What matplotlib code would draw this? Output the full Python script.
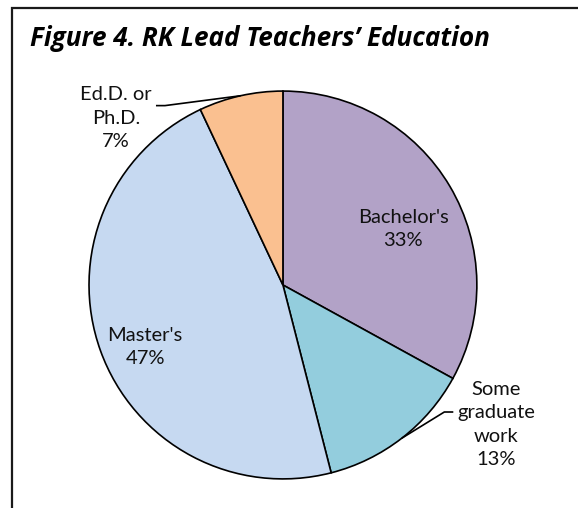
import matplotlib
matplotlib.use("Agg")
import matplotlib.pyplot as plt
import numpy as np
from matplotlib.patches import Rectangle

plt.rcParams["font.family"] = ["Lato", "DejaVu Sans"]

title = "Figure 4. RK Lead Teachers\u2019 Education"
categories = ["Bachelor's", "Some\ngraduate\nwork", "Master's", "Ed.D. or\nPh.D."]
shares = [33, 13, 47, 7]
colors = ["#B2A2C7", "#93CDDD", "#C6D9F1", "#FAC090"]

# label centres in data units (pie radius = 1)
label_pos = [(0.62, 0.29), (1.10, -0.72), (-0.71, -0.32), (-0.86, 0.86)]
outside = [False, True, False, True]

fig = plt.figure(figsize=(5.78, 5.08), dpi=100)
ax = fig.add_axes([0.154, 0.057, 0.671, 0.764])

wedges, _ = ax.pie(
    shares,
    colors=colors,
    startangle=90,
    counterclock=False,
    radius=1,
    wedgeprops=dict(edgecolor="black", linewidth=1.2),
)
ax.set_xlim(-1, 1)
ax.set_ylim(-1, 1)
ax.set_aspect("equal")
ax.axis("off")

renderer = fig.canvas.get_renderer()
inv = ax.transData.inverted()

for w, cat, share, (lx, ly), out in zip(wedges, categories, shares, label_pos, outside):
    t = ax.text(lx, ly, f"{cat}\n{share}%", ha="center", va="center",
                fontsize=14.5, linespacing=1.45, color="#111111")
    if not out:
        continue
    # leader line: short horizontal stub beside the text, then to the wedge edge
    mid = np.deg2rad((w.theta1 + w.theta2) / 2)
    ex, ey = np.cos(mid), np.sin(mid)
    bb = t.get_window_extent(renderer)
    (bx0, _), (bx1, _) = inv.transform([(bb.x0, 0), (bb.x1, 0)])
    gap, stub = 4 / 194, 9 / 194
    ay = ly + 0.065
    if ex > lx:
        x0 = bx1 + gap
        xs = [x0, x0 + stub, ex]
    else:
        x0 = bx0 - gap
        xs = [x0, x0 - stub, ex]
    ax.plot(xs, [ay, ay, ey], color="black", linewidth=1.2,
            solid_capstyle="butt", clip_on=False)

fig.patches.append(Rectangle((12 / 578, -0.1), 1.2, 1 - 8 / 508 + 0.1,
                             transform=fig.transFigure, fill=False,
                             edgecolor="#1a1a1a", linewidth=1.6))
fig.text(30 / 578, 1 - 46 / 508, title, fontsize=18.8, fontweight="bold",
         fontstyle="italic", va="baseline", ha="left",
         family=["Open Sans", "DejaVu Sans"])

fig.savefig("out.png", dpi=100)
